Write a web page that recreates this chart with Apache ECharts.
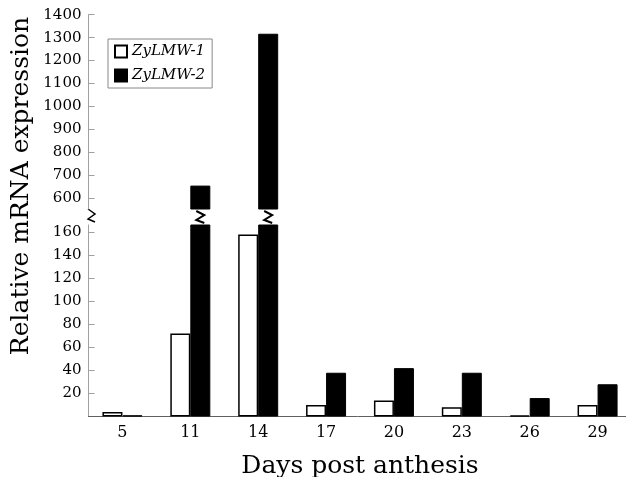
<!DOCTYPE html>
<html><head><meta charset="utf-8">
<script src="https://cdn.jsdelivr.net/npm/echarts@6/dist/echarts.min.js"></script>
<style>html,body{margin:0;padding:0;background:#fff}#c{width:626px;height:477px}</style>
</head><body><div id="c"></div>
<script>
const days = ['5','11','14','17','20','23','26','29'];
const lmw1 = [4, 72, 158, 10, 14, 8, 1, 10];
const lmw2 = [1, 655, 1317, 38, 42, 38, 16, 28];
const lowerTicks = [20, 40, 60, 80, 100, 120, 140, 160];
const upperTicks = [600, 700, 800, 900, 1000, 1100, 1200, 1300, 1400];
const lowerMax = 166.3, upperMin = 553, upperMax = 1400;

const FONT = 'DejaVu Serif';
const BW = 20;
const chart = echarts.init(document.getElementById('c'));
const yCommon = (idx, min, max, ticks) => ({
  type: 'value', gridIndex: idx, min: min, max: max,
  axisLine: {show: true, lineStyle: {color: '#a0a0a0', width: 1}},
  axisTick: {show: true, inside: true, length: 6, lineStyle: {color: '#a0a0a0'}, customValues: ticks},
  axisLabel: {color: '#000', fontFamily: FONT, fontSize: 15, margin: 7, customValues: ticks,
              formatter: v => String(v)},
  splitLine: {show: false}
});
const upFilter = a => a.map(v => v > upperMin ? v : null);
chart.setOption({
  animation: false,
  backgroundColor: '#fff',
  grid: [
    {left: 88.5, width: 543, top: 225, height: 191.5, outerBoundsMode: 'none', containLabel: false},
    {left: 88.5, width: 543, top: 14.7, height: 194.3, outerBoundsMode: 'none', containLabel: false}
  ],
  xAxis: [
    {type: 'category', gridIndex: 0, data: days,
     axisLine: {lineStyle: {color: '#606060'}},
     axisTick: {inside: true, length: 5, lineStyle: {color: '#808080'}},
     axisLabel: {color: '#000', fontFamily: FONT, fontSize: 16, margin: 8},
     name: 'Days post anthesis', nameLocation: 'middle', nameGap: 37,
     nameTextStyle: {color: '#000', fontFamily: FONT, fontSize: 25}},
    {type: 'category', gridIndex: 1, data: days, show: false}
  ],
  yAxis: [
    yCommon(0, 0, lowerMax, lowerTicks),
    yCommon(1, upperMin, upperMax, upperTicks)
  ],
  legend: {
    orient: 'vertical', left: 108, top: 39,
    data: ['ZyLMW-1', 'ZyLMW-2'],
    borderColor: '#888', borderWidth: 1, padding: [5, 7, 5, 6],
    itemWidth: 12, itemHeight: 12, itemGap: 9, icon: 'rect',
    textStyle: {fontFamily: FONT, fontStyle: 'italic', fontSize: 15, color: '#000'}
  },
  graphic: [
    {type: 'text', rotation: Math.PI / 2, x: 21, y: 186,
     style: {text: 'Relative mRNA expression', font: '25px "DejaVu Serif"', fill: '#000', align: 'center', verticalAlign: 'middle'}},
    {type: 'polyline', shape: {points: [[88, 209], [95, 214], [88, 219], [95, 222]]},
     style: {stroke: '#000', lineWidth: 1.5, fill: null}}
  ],
  series: [
    {type: 'bar', name: 'ZyLMW-1', xAxisIndex: 0, yAxisIndex: 0, data: lmw1, barWidth: BW, barGap: '0%',
     itemStyle: {color: '#fff', borderColor: '#000', borderWidth: 1.5}},
    {type: 'bar', name: 'ZyLMW-2', xAxisIndex: 0, yAxisIndex: 0, data: lmw2, barWidth: BW, barGap: '0%', clip: true,
     itemStyle: {color: '#000', borderColor: '#000', borderWidth: 1}},
    {type: 'bar', name: 'ZyLMW-1', xAxisIndex: 1, yAxisIndex: 1, data: upFilter(lmw1), barWidth: BW, barGap: '0%', clip: true,
     itemStyle: {color: '#fff', borderColor: '#000', borderWidth: 1.5}},
    {type: 'bar', name: 'ZyLMW-2', xAxisIndex: 1, yAxisIndex: 1, data: upFilter(lmw2), barWidth: BW, barGap: '0%', clip: true,
     itemStyle: {color: '#000', borderColor: '#000', borderWidth: 1}},
    {type: 'custom', xAxisIndex: 0, yAxisIndex: 0, clip: false, silent: true,
     data: lmw2.map((v, i) => [i, v]),
     renderItem: function (params, api) {
       if (api.value(1) <= lowerMax) return null;
       const p = api.coord([api.value(0), lowerMax]);
       const cx = p[0] + BW / 2, top = p[1];
       return {type: 'polyline', shape: {points: [[cx - 4, top - 14], [cx + 4, top - 10], [cx - 4, top - 5], [cx + 4, top - 2]]},
               style: {stroke: '#000', lineWidth: 2, fill: null}};
     }}
  ]
});
</script></body></html>
